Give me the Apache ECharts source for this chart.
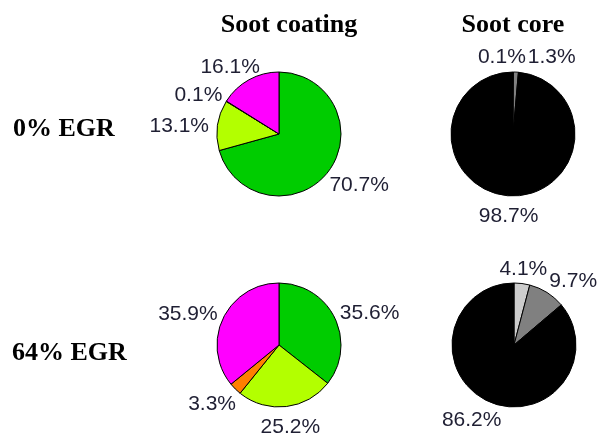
<!DOCTYPE html>
<html>
<head>
<meta charset="utf-8">
<script src="https://cdn.jsdelivr.net/npm/echarts@6/dist/echarts.min.js"></script>
<style>
  html, body { margin: 0; padding: 0; background: #fff; }
  #main { width: 603px; height: 439px; }
</style>
</head>
<body>
<div id="main"></div>
<script>
  // data
  const rowNames = ['0% EGR', '64% EGR']
  const colNames = ['Soot coating', 'Soot core']
  const coatingParts = ['part 1', 'part 2', 'part 3', 'part 4']
  const coreParts = ['light', 'grey', 'black']
  const coating0 = [70.7, 13.1, 0.1, 16.1]
  const coating64 = [35.6, 25.2, 3.3, 35.9]
  const core0 = [0.1, 1.3, 98.7]
  const core64 = [4.1, 9.7, 86.2]

  const coatingColors = ['#00cc00', '#b3ff00', '#ff7f00', '#ff00ff']
  const coreColors = ['#cccccc', '#808080', '#000000']

  const R = 62
  const LABEL_R = 71
  const LABEL_SIZE = 21
  const LABEL_FONT = LABEL_SIZE + 'px Arial, "Liberation Sans"'
  const TITLE_FONT = 'Times New Roman, "Liberation Serif", serif'

  const pies = [
    { names: coatingParts, values: coating0, colors: coatingColors, center: [279, 134] },
    { names: coreParts, values: core0, colors: coreColors, center: [513, 134] },
    { names: coatingParts, values: coating64, colors: coatingColors, center: [279, 345] },
    { names: coreParts, values: core64, colors: coreColors, center: [514, 345] },
  ]

  const ctx = document.createElement('canvas').getContext('2d')
  ctx.font = LABEL_FONT

  // label boxes sit just outside the rim, along each slice's middle direction
  const placeLabels = (pie)=> {
    const total = pie.values.reduce((a, b)=> a + b, 0)
    let acc = 0
    const boxes = pie.values.map(v=> {
      const mid = (acc + v / 2) / total * Math.PI * 2
      acc += v
      const dx = Math.sin(mid), dy = -Math.cos(mid)
      const w = ctx.measureText(v.toFixed(1) + '%').width
      const h = LABEL_SIZE * 0.8
      return {
        x: pie.center[0] + dx * LABEL_R + dx * w / 2,
        y: pie.center[1] + dy * LABEL_R + dy * h / 2 + 3,
        w, h
      }
    })
    // push overlapping neighbours apart sideways (the later one moves more)
    for (let i = 1; i < boxes.length; i++) {
      for (let j = 0; j < i; j++) {
        const a = boxes[i], b = boxes[j]
        const ox = (a.w + b.w) / 2 + 2 - Math.abs(a.x - b.x)
        const oy = (a.h + b.h) / 2 - Math.abs(a.y - b.y)
        if (ox > 0 && oy > 0) {
          const s = a.x >= b.x ? 1 : -1
          a.x += s * ox * 0.75
          b.x -= s * ox * 0.25
        }
      }
    }
    return boxes
  }

  const labelBoxes = pies.map(placeLabels)

  const mychart = echarts.init(document.getElementById('main'))

  const titleStyle = (text, align)=> ({
    text, align, verticalAlign: 'middle', fill: '#000',
    font: 'bold 26px ' + TITLE_FONT
  })

  const option = {
    animation: false,
    backgroundColor: '#fff',
    graphic: [
      { type: 'text', x: 289, y: 25, style: titleStyle(colNames[0], 'center') },
      { type: 'text', x: 513, y: 25, style: titleStyle(colNames[1], 'center') },
      { type: 'text', x: 13, y: 129, style: titleStyle(rowNames[0], 'left') },
      { type: 'text', x: 12, y: 353, style: titleStyle(rowNames[1], 'left') },
    ],
    series: pies.map((pie, si)=> ({
      type: 'pie',
      center: pie.center,
      radius: R,
      startAngle: 90,
      clockwise: true,
      avoidLabelOverlap: false,
      silent: true,
      itemStyle: { borderColor: '#000', borderWidth: 1 },
      label: {
        show: true,
        position: 'outside',
        formatter: p=> p.value.toFixed(1) + '%',
        fontFamily: 'Arial, "Liberation Sans"',
        fontSize: LABEL_SIZE,
        color: '#1f1f33'
      },
      labelLine: { show: false },
      labelLayout: params=> {
        const b = labelBoxes[si][params.dataIndex]
        return { x: b.x, y: b.y, align: 'center', verticalAlign: 'middle' }
      },
      data: pie.values.map((v, i)=> ({
        name: pie.names[i],
        value: v,
        itemStyle: { color: pie.colors[i] }
      }))
    }))
  }
  mychart.setOption(option)
</script>
</body>
</html>
